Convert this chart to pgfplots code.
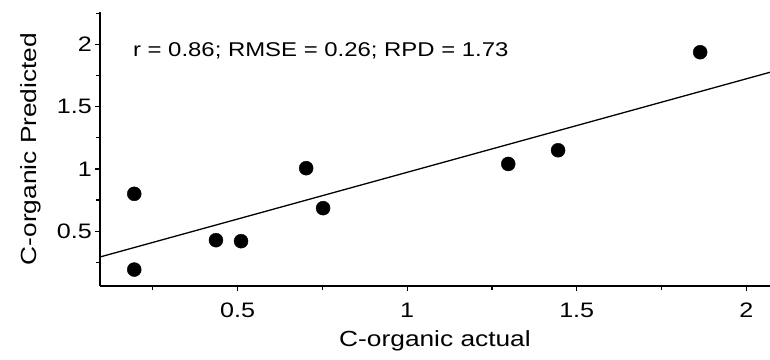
\documentclass[border=0pt]{standalone}
\usepackage{fontspec}
\setmainfont[FakeStretch=1.2]{Liberation Sans}
\usepackage{pgfplots}
\pgfplotsset{compat=1.18}
\begin{document}
\begin{tikzpicture}
\begin{axis}[
  at={(0,0)}, anchor=south west,
  scale only axis, width=670bp, height=274bp,
  xmin=0.094, xmax=2.07, ymin=0.06, ymax=2.26,
  axis lines*=left,
  axis line style={line width=1.6bp, black},
  xtick={0.5,1,1.5,2}, ytick={0.5,1,1.5,2},
  minor xtick={0.25,0.75,1.25,1.75},
  minor ytick={0.25,0.75,1.25,1.75,2.25},
  tick align=outside, major tick length=5bp, minor tick length=4bp,
  tick style={line width=1.2bp, black},
  /pgf/number format/assume math mode=true,
  ticklabel style={font=\fontsize{21}{24}\selectfont},
  xticklabel style={anchor=base, inner sep=0pt, yshift=-26bp},
  yticklabel style={anchor=east, inner sep=0pt, xshift=-3bp},
  xlabel={C-organic actual},
  ylabel={C-organic Predicted},
  xlabel style={font=\fontsize{22}{26}\selectfont, at={(axis description cs:0.5,-0.2226)}, anchor=base, inner sep=0pt},
  ylabel style={font=\fontsize{22}{26}\selectfont, at={(axis description cs:-0.0955,0.5)}, rotate=0, anchor=base, inner sep=0pt},
]
\addplot[only marks, mark=*, mark size=7bp, black, mark options={fill=black}] coordinates {
  (0.195,0.80) (0.195,0.192) (0.436,0.428) (0.51,0.42) (0.702,1.006)
  (0.752,0.685) (1.298,1.04) (1.445,1.15) (1.864,1.937)
};
\addplot[black, line width=1.3bp] coordinates {(0.094,0.293) (2.07,1.776)};
\node[anchor=base west, inner sep=0pt, font=\fontsize{20}{24}\selectfont] at (axis description cs:0.049,0.836) {r = 0.86; RMSE = 0.26; RPD = 1.73};
\end{axis}
\pgfresetboundingbox
\path (-100bp,-74bp) rectangle (670bp,286bp);
\end{tikzpicture}
\end{document}
